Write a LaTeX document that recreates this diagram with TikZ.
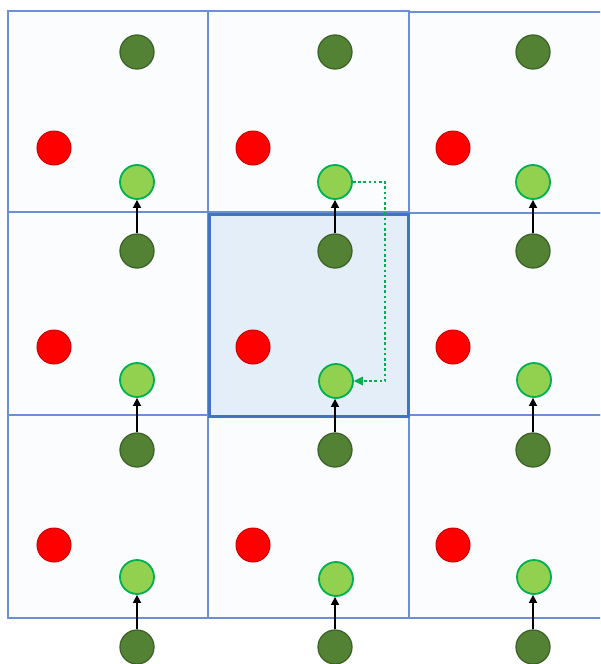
\documentclass[tikz,border=0pt]{standalone}
\usetikzlibrary{arrows.meta}
\definecolor{cellfill}{HTML}{FAFCFE}
\definecolor{cellline}{HTML}{6A8FD6}
\definecolor{midfill}{HTML}{E4EEF8}
\definecolor{midline}{HTML}{4472C4}
\definecolor{dkg}{HTML}{548235}
\definecolor{dkgline}{HTML}{3E6328}
\definecolor{ltg}{HTML}{92D050}
\definecolor{ltgline}{HTML}{00B050}
\definecolor{redline}{HTML}{D00000}
\tikzset{
  cellbox/.style={draw=cellline, fill=cellfill, line width=1.5pt},
  midbox/.style={draw=midline, fill=midfill, line width=3pt},
  dkdot/.style={circle, minimum size=34pt, inner sep=0pt, fill=dkg, draw=dkgline, line width=1.3pt},
  ltdot/.style={circle, minimum size=34pt, inner sep=0pt, fill=ltg, draw=ltgline, line width=1.8pt},
  reddot/.style={circle, minimum size=34pt, inner sep=0pt, fill=red, draw=redline, line width=1pt},
  uparrow/.style={-{Triangle[length=8pt,width=8pt]}, line width=1.6pt, black},
  dotarrow/.style={-{Triangle[length=9pt,width=9pt,line width=0pt]}, ltgline, line width=2.6pt, dash pattern=on 2.6pt off 2.6pt}
}
\begin{document}
\begin{tikzpicture}[x=1pt,y=-1pt]
\useasboundingbox (0,0) rectangle (600,664);
\clip (0,0) rectangle (600,664);
\fill[white] (0,0) rectangle (600,664);
% cells
\path[cellbox] (8,11) rectangle (208,212);
\path[cellbox] (208,11) rectangle (409,212);
\path[cellbox] (409,12) rectangle (612,213);
\path[cellbox] (8,212) rectangle (208,415);
\path[cellbox] (409,213) rectangle (612,415);
\path[cellbox] (8,415) rectangle (208,618);
\path[cellbox] (208,415) rectangle (409,618);
\path[cellbox] (409,415) rectangle (612,618);
\path[midbox] (209.5,214) rectangle (408.5,416);
% row 1
\node[dkdot] (d11) at (137,52) {};
\node[reddot] (r11) at (54,148) {};
\node[ltdot] (l11) at (137,182) {};
\node[dkdot] (d12) at (335,52) {};
\node[reddot] (r12) at (253,148) {};
\node[ltdot] (l12) at (335,182) {};
\node[dkdot] (d13) at (533,52) {};
\node[reddot] (r13) at (453,148) {};
\node[ltdot] (l13) at (533,182) {};
% row 2
\node[dkdot] (d21) at (137,251) {};
\node[reddot] (r21) at (54,347) {};
\node[ltdot] (l21) at (137,380) {};
\node[dkdot] (d22) at (335,251) {};
\node[reddot] (r22) at (253,347) {};
\node[ltdot] (l22) at (336,381) {};
\node[dkdot] (d23) at (533,251) {};
\node[reddot] (r23) at (453,347) {};
\node[ltdot] (l23) at (534,380) {};
% row 3
\node[dkdot] (d31) at (137,450) {};
\node[reddot] (r31) at (54,545) {};
\node[ltdot] (l31) at (137,577) {};
\node[dkdot] (d32) at (335,450) {};
\node[reddot] (r32) at (253,545) {};
\node[ltdot] (l32) at (336,579) {};
\node[dkdot] (d33) at (533,450) {};
\node[reddot] (r33) at (453,545) {};
\node[ltdot] (l33) at (534,577) {};
% row 4 (below)
\node[dkdot] (d41) at (137,647) {};
\node[dkdot] (d42) at (335,647) {};
\node[dkdot] (d43) at (533,647) {};
% arrows
\draw[uparrow] (d21) -- (l11);
\draw[uparrow] (d22) -- (l12);
\draw[uparrow] (d23) -- (l13);
\draw[uparrow] (d31) -- (l21);
\draw[uparrow] (d32) -- (l22.south -| d32);
\draw[uparrow] (d33) -- (l23.south -| d33);
\draw[uparrow] (d41) -- (l31);
\draw[uparrow] (d42) -- (l32.south -| d42);
\draw[uparrow] (d43) -- (l33.south -| d43);
\coordinate (turn) at (385,182);
\draw[dotarrow] (l12.east) -- (turn) -- (turn |- l22) -- (l22.east);
\end{tikzpicture}
\end{document}
